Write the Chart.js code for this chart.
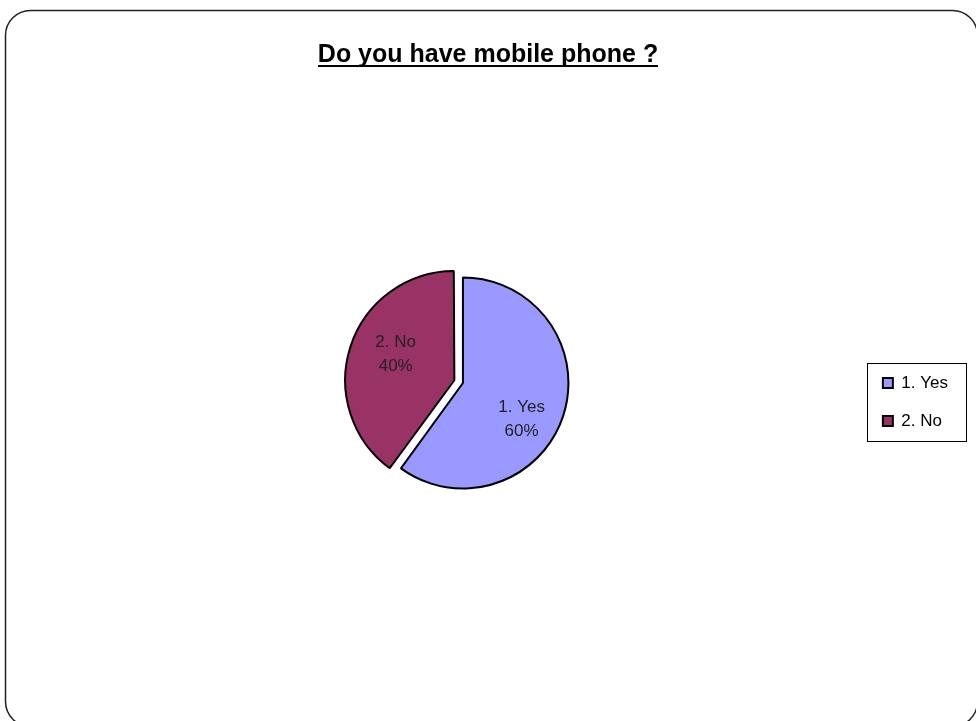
<!DOCTYPE html>
<html><head><meta charset="utf-8">
<script src="https://cdn.jsdelivr.net/npm/chart.js@4.4.1/dist/chart.umd.min.js"></script>
<style>html,body{margin:0;padding:0;background:#fff;} canvas{display:block;}</style>
</head><body>
<canvas id="c" width="976" height="721"></canvas>
<script>
const chartTitle = 'Do you have mobile phone ?';
const categories = ['1. Yes', '2. No'];
const values = [60, 40];
const sliceColors = ['#9999FF', '#993366'];

const FONT = '"Liberation Sans", Arial, sans-serif';

const frame = {
  id: 'frame',
  beforeDraw(chart) {
    const ctx = chart.ctx;
    ctx.save();
    ctx.fillStyle = '#fff';
    ctx.fillRect(0, 0, chart.width, chart.height);
    ctx.beginPath();
    ctx.roundRect(5.5, 10.5, 972, 716, 25);
    ctx.lineWidth = 1.5;
    ctx.strokeStyle = '#222';
    ctx.stroke();
    ctx.restore();
  }
};

const extras = {
  id: 'extras',
  afterDatasetsDraw(chart) {
    const ctx = chart.ctx;
    const meta = chart.getDatasetMeta(0);
    const total = values.reduce((a, b) => a + b, 0);
    ctx.save();
    ctx.font = '17px ' + FONT;
    ctx.fillStyle = '#222';
    ctx.textAlign = 'center';
    ctx.textBaseline = 'middle';
    meta.data.forEach((arc, i) => {
      const p = arc.getProps(['x', 'y', 'startAngle', 'endAngle', 'outerRadius'], true);
      const off = (arc.options.offset || 0) / 4;
      const mid = (p.startAngle + p.endAngle) / 2;
      const cx = p.x + Math.cos(mid) * off, cy = p.y + Math.sin(mid) * off;
      const a = mid + 10 * Math.PI / 180;
      const r = p.outerRadius * 0.63;
      const lx = cx + Math.cos(a) * r, ly = cy + Math.sin(a) * r + 5;
      const pct = Math.round(values[i] / total * 100) + '%';
      ctx.fillText(categories[i], lx, ly - 12);
      ctx.fillText(pct, lx, ly + 12);
    });
    ctx.restore();
  },
  afterDraw(chart) {
    const ctx = chart.ctx;
    ctx.save();
    // title underline
    const tb = chart.titleBlock;
    const topts = chart.options.plugins.title;
    ctx.font = 'bold 25px ' + FONT;
    const w = ctx.measureText(chartTitle).width;
    const cx = (tb.left + tb.right) / 2;
    const midY = tb.top + topts.padding.top + 30 / 2;
    ctx.fillStyle = '#000';
    ctx.fillRect(Math.round(cx - w / 2), Math.round(midY + 10), Math.round(w), 2);
    // legend frame
    const hb = chart.legend.legendHitBoxes;
    if (hb && hb.length) {
      const left = Math.min(...hb.map(h => h.left)) - 16;
      const right = Math.max(...hb.map(h => h.left + h.width)) + 18;
      const top = hb[0].top + 8.5 - 20;
      const bottom = hb[hb.length - 1].top + 8.5 + 20;
      ctx.strokeStyle = '#000';
      ctx.lineWidth = 1;
      ctx.strokeRect(Math.round(left) + 0.5, Math.round(top) + 0.5, Math.round(right - left), Math.round(bottom - top));
    }
    ctx.restore();
  }
};

new Chart(document.getElementById('c'), {
  type: 'pie',
  data: {
    labels: categories,
    datasets: [{
      data: values,
      backgroundColor: sliceColors,
      borderColor: '#000',
      borderWidth: 2,
      offset: [0, 36]
    }]
  },
  options: {
    responsive: false,
    animation: false,
    events: [],
    radius: 105.5,
    layout: { padding: { left: 18, right: 18, top: 0, bottom: 35 } },
    scales: {
      y: {
        type: 'linear', position: 'left', display: true,
        ticks: { display: false }, grid: { display: false }, border: { display: false },
        afterFit(s) { s.width = 46; }
      }
    },
    plugins: {
      title: {
        display: true, text: chartTitle, color: '#000',
        font: { family: FONT, size: 25, weight: 'bold', lineHeight: 1.2 },
        padding: { top: 40, bottom: 10 }
      },
      legend: {
        position: 'right', fullSize: false, align: 'center',
        title: { display: true, text: '', font: { size: 10, lineHeight: 1 }, padding: { top: 0, bottom: 28 } },
        labels: { boxWidth: 10, boxHeight: 10, padding: 21, color: '#000', font: { family: FONT, size: 17 } }
      },
      tooltip: { enabled: false }
    }
  },
  plugins: [frame, extras]
});
</script>
</body></html>
